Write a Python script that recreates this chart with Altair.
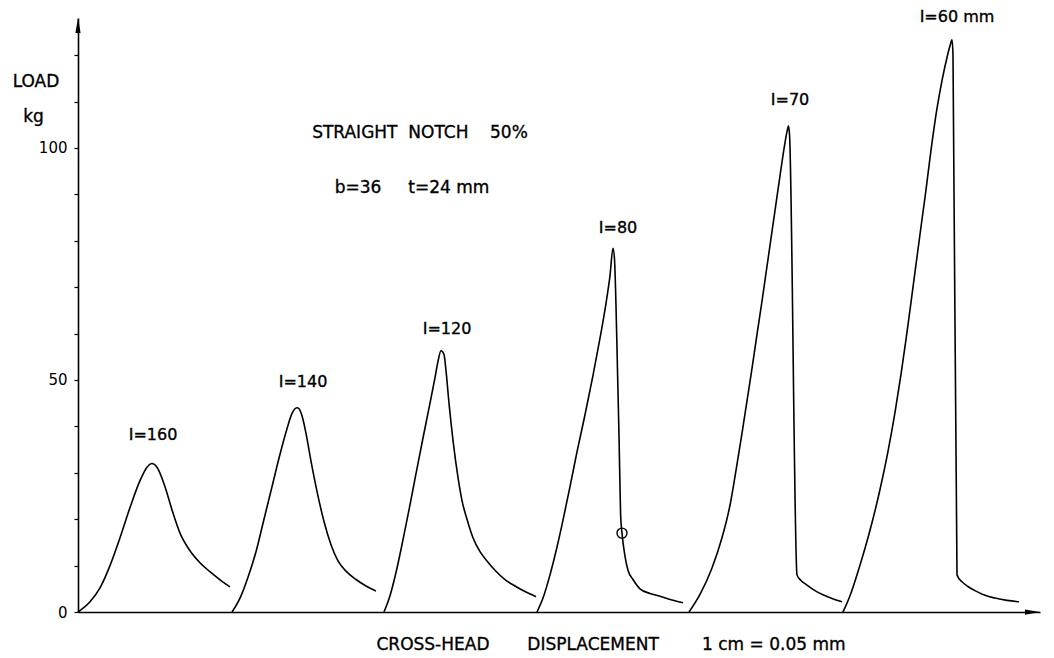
import altair as alt
import pandas as pd

# ---- data (x: chart displacement units ; y: load kg) ----
x160 = [0, 1.2, 2.2, 3.2, 4.2, 5.2, 6.2, 6.9, 7.4, 7.9, 8.7, 9.4, 10.2, 11.2, 12.2, 13.4, 14.4, 15.2]
y160 = [0, 2.2, 5.2, 10, 16, 22.5, 28.3, 31.2, 32, 31.2, 27, 22, 17, 13.2, 10.6, 8.3, 6.6, 5.4]

x140 = [15.4, 16.2, 17.0, 17.8, 18.6, 19.4, 20.2, 20.9, 21.4, 21.9, 22.1, 22.4, 22.8, 23.3, 23.9, 24.6, 25.3, 26.0, 26.8, 27.8, 28.8, 29.8]
y140 = [0, 3, 7.5, 13, 20, 27, 34, 39.5, 42.8, 44, 43.8, 42.3, 38.5, 32.5, 26, 19.5, 14.5, 11, 8.8, 7, 5.6, 4.5]

x120 = [30.6, 31.2, 31.8, 32.4, 33.1, 33.8, 34.5, 35.2, 35.7, 36.0, 36.3, 36.6, 36.8, 37.1, 37.5, 38.0, 38.4, 38.9, 39.5, 40.2, 40.9, 41.7, 42.7, 43.7, 44.7, 45.8]
y120 = [0, 3.5, 8.5, 14.5, 22, 29.8, 37.5, 45, 50.5, 54, 56.3, 55.5, 52, 45, 37, 29, 24, 20, 16, 13, 11, 9, 7, 5.6, 4.4, 3.3]

x80 = [45.9, 46.5, 47.2, 47.9, 48.5, 49.2, 49.9, 50.7, 51.5, 52.2, 52.8, 53.2, 53.5, 53.65, 53.8, 53.95, 54.1, 54.2, 54.26, 54.4, 54.7, 55.0, 55.5, 56.2, 57.2, 58.2, 59.4, 60.5]
y80 = [0, 3, 8, 14, 19.8, 27, 34.5, 42.5, 51, 59, 66.5, 72.5, 78.4, 76, 66, 52, 38, 27, 21, 17, 12, 9, 7, 5, 4, 3.4, 2.6, 2]

x70 = [61.1, 62.2, 63.4, 64.4, 65.2, 65.8, 66.4, 66.9, 67.4, 67.9, 68.4, 68.8, 69.2, 69.7, 70.2, 70.6, 70.9, 71.05, 71.15, 71.9, 72.2, 72.9, 73.7, 74.5, 75.4, 76.4]
y70 = [0, 3.8, 9.5, 16, 23, 30.5, 38.5, 45.5, 52.5, 59.8, 67, 73, 79, 86.5, 94, 99.8, 103.5, 104.7, 103, 8, 7, 5.8, 4.6, 3.7, 2.9, 2.2]

x60 = [76.5, 77.2, 78.1, 79.2, 80.2, 81.0, 81.7, 82.3, 82.85, 83.3, 83.8, 84.3, 84.77, 85.3, 85.9, 86.4, 86.9, 87.2, 87.4, 87.5, 87.9, 88.4, 89.0, 89.7, 90.7, 91.7, 92.9, 94.1]
y60 = [0, 3.5, 9.4, 17.6, 26.4, 34.6, 43, 51.2, 59.5, 66.7, 74.9, 83, 90.5, 99.5, 108.5, 114.5, 119.5, 122, 123.3, 120, 8, 6.5, 5.5, 4.6, 3.6, 3, 2.5, 2.2]

series_names = ["l=160", "l=140", "l=120", "l=80", "l=70", "l=60"]
series_x = [x160, x140, x120, x80, x70, x60]
series_y = [y160, y140, y120, y80, y70, y60]

# curve labels
label_text = ["I=160", "I=140", "I=120", "I=80", "I=70", "I=60 mm"]
label_x = [7.5, 22.5, 36.9, 54.0, 71.2, 87.9]
label_y = [38.1, 49.6, 61.0, 82.8, 110.3, 128.2]

# marked point on l=80 curve
circle_x = [54.4]
circle_y = [17]

# annotations
note_text = ["LOAD", "kg", "STRAIGHT\u00a0\u00a0NOTCH\u00a0\u00a0\u00a0\u00a050%",
             "b=36\u00a0\u00a0\u00a0\u00a0\u00a0t=24 mm",
             "CROSS-HEAD\u00a0\u00a0\u00a0\u00a0\u00a0\u00a0\u00a0DISPLACEMENT\u00a0\u00a0\u00a0\u00a0\u00a0\u00a0\u00a0\u00a01 cm = 0.05 mm"]
note_x = [-4.2, -4.45, 34.2, 33.4, 53.3]
note_y = [114.2, 106.7, 103.2, 91.4, -7.1]

y_ticks = [0, 10, 20, 30, 40, 50, 60, 70, 80, 90, 100, 110, 120]
X_MAX = 96.2
Y_MAX = 128

# ---- tables ----
rows = []
for name, xs, ys in zip(series_names, series_x, series_y):
    for i, (a, b) in enumerate(zip(xs, ys)):
        rows.append({"series": name, "order": i, "x": a, "y": b})
curves = pd.DataFrame(rows)
labels = pd.DataFrame({"text": label_text, "x": label_x, "y": label_y})
notes = pd.DataFrame({"text": note_text, "x": note_x, "y": note_y})
circ = pd.DataFrame({"x": circle_x, "y": circle_y})
arrow_up = pd.DataFrame({"x": [0], "y": [Y_MAX - 1.6]})
arrow_right = pd.DataFrame({"x": [X_MAX - 0.75], "y": [0]})

FONT = "DejaVu Sans"
xs_ = alt.Scale(domain=[0, X_MAX], nice=False, zero=False)
ys_ = alt.Scale(domain=[0, Y_MAX], nice=False, zero=False)
xaxis = alt.Axis(labels=False, ticks=False, grid=False, title=None, domainColor="black",
                 domainWidth=1.6)
yaxis = alt.Axis(values=y_ticks, grid=False, title=None, domainColor="black", domainWidth=1.6,
                 tickColor="black", tickSize=4, tickWidth=1.2, labelPadding=7,
                 labelExpr="datum.value % 50 === 0 ? datum.label : ''",
                 labelFont=FONT, labelFontSize=15, labelColor="black")

X = alt.X("x:Q", scale=xs_, axis=xaxis)
Y = alt.Y("y:Q", scale=ys_, axis=yaxis)

lines = alt.Chart(curves).mark_line(color="black", strokeWidth=1.6, interpolate="monotone").encode(
    x=X, y=Y, detail="series:N", order="order:Q")

circle = alt.Chart(circ).mark_point(shape="circle", filled=False, color="black", size=100,
                                    strokeWidth=1.4, opacity=1).encode(x=X, y=Y)

up = alt.Chart(arrow_up).mark_point(shape="M0,-1L0.35,1L-0.35,1Z", filled=True, color="black",
                                    size=225, opacity=1).encode(x=X, y=Y)
right = alt.Chart(arrow_right).mark_point(shape="M1,0L-1,-0.35L-1,0.35Z", filled=True, color="black",
                                          size=225, opacity=1).encode(x=X, y=Y)

lab = alt.Chart(labels).mark_text(font=FONT, fontSize=16, color="black", align="center",
                                  baseline="middle", stroke="black", strokeWidth=0.35).encode(
    x=X, y=Y, text="text:N")
nt = alt.Chart(notes).mark_text(font=FONT, fontSize=17, color="black", align="center",
                                baseline="middle", stroke="black", strokeWidth=0.35).encode(
    x=X, y=Y, text="text:N")

chart = alt.layer(lines, circle, up, right, lab, nt).properties(
    width=962, height=594,
    autosize=alt.AutoSizeParams(type="none"),
    padding={"left": 78, "top": 18, "right": 14, "bottom": 46},
    background="white",
).configure_view(stroke=None)

chart.save("out.html", embed_options={"renderer": "svg", "actions": False})
